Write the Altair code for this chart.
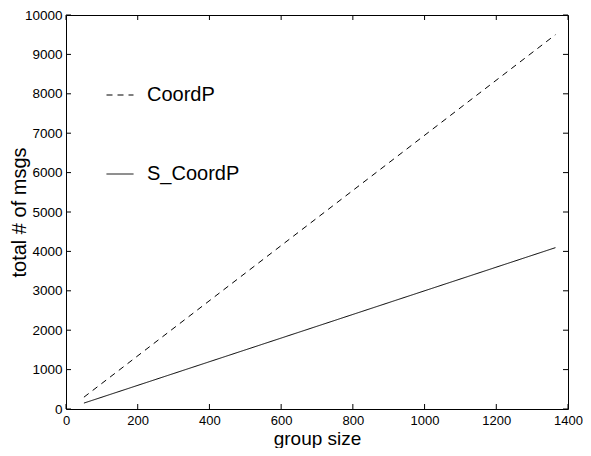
import altair as alt
import pandas as pd

# ---- data ----
series_names = ["CoordP", "S_CoordP"]
coordp_x = [50, 1365]
coordp_y = [300, 9500]
scoordp_x = [50, 1365]
scoordp_y = [150, 4095]

x_ticks = [0, 200, 400, 600, 800, 1000, 1200, 1400]
y_ticks = [0, 1000, 2000, 3000, 4000, 5000, 6000, 7000, 8000, 9000, 10000]

rows = []
for xv, yv in zip(coordp_x, coordp_y):
    rows.append({"series": series_names[0], "size": xv, "msgs": yv})
for xv, yv in zip(scoordp_x, scoordp_y):
    rows.append({"series": series_names[1], "size": xv, "msgs": yv})
df = pd.DataFrame(rows)
xt_df = pd.DataFrame({"t": x_ticks})
yt_df = pd.DataFrame({"t": y_ticks})

FONT = "Liberation Sans"
W, H, TICK = 502, 394, 5
xscale = alt.Scale(domain=[0, 1400], nice=False, zero=False)
yscale = alt.Scale(domain=[0, 10000], nice=False, zero=False)

# main layer: lines + labelled axes + legend
main = alt.Chart(df).mark_line(strokeWidth=1, color="black").encode(
    x=alt.X("size:Q", scale=xscale,
            axis=alt.Axis(values=x_ticks, title="group size", orient="bottom",
                          format="d",
                          domain=False, ticks=False, tickSize=0, grid=False,
                          labelPadding=5, labelFlush=False, labelOverlap=False,
                          labelFontSize=13, labelFont=FONT, labelColor="black",
                          titleFont=FONT, titleFontSize=19, titleFontWeight="normal",
                          titleColor="black", titleY=35.5, titleBaseline="alphabetic")),
    y=alt.Y("msgs:Q", scale=yscale,
            axis=alt.Axis(values=y_ticks, title="total # of msgs", orient="left",
                          format="d",
                          domain=False, ticks=False, tickSize=0, grid=False,
                          labelPadding=4, labelFlush=False, labelOverlap=False,
                          labelFontSize=13.5, labelFont=FONT, labelColor="black",
                          titleFont=FONT, titleFontSize=20, titleFontWeight="normal",
                          titleColor="black", titleX=-41, titleY=197,
                          titleBaseline="alphabetic", titleAngle=270)),
    strokeDash=alt.StrokeDash("series:N",
        scale=alt.Scale(domain=series_names, range=[[6, 5], [1, 0]]),
        legend=alt.Legend(title=None, orient="none", legendX=40, legendY=66,
                          symbolType="stroke", symbolSize=729,
                          symbolStrokeWidth=1, symbolStrokeColor="black",
                          labelFont=FONT, labelFontSize=20, labelColor="black",
                          labelOffset=13, rowPadding=55, padding=0)),
    detail="series:N",
)

# inward tick marks on all four sides (MATLAB-style box)
tick_bottom = alt.Chart(xt_df).mark_rule(color="black", strokeWidth=1).encode(
    x=alt.X("t:Q", scale=xscale, axis=None),
    y=alt.value(H), y2=alt.value(H - TICK))
tick_top = alt.Chart(xt_df).mark_rule(color="black", strokeWidth=1).encode(
    x=alt.X("t:Q", scale=xscale, axis=None),
    y=alt.value(0), y2=alt.value(TICK))
tick_left = alt.Chart(yt_df).mark_rule(color="black", strokeWidth=1).encode(
    y=alt.Y("t:Q", scale=yscale, axis=None),
    x=alt.value(0), x2=alt.value(TICK))
tick_right = alt.Chart(yt_df).mark_rule(color="black", strokeWidth=1).encode(
    y=alt.Y("t:Q", scale=yscale, axis=None),
    x=alt.value(W - TICK), x2=alt.value(W))

chart = alt.layer(main, tick_bottom, tick_top, tick_left, tick_right).resolve_axis(
    x="independent", y="independent"
).properties(
    width=W, height=H,
    autosize=alt.AutoSizeParams(type="none"),
    padding={"left": 58, "top": 7, "right": 15, "bottom": 39},
    background="white",
).configure_view(stroke="black", strokeWidth=1)

chart.save("out.html", embed_options={"renderer": "svg", "actions": False})
